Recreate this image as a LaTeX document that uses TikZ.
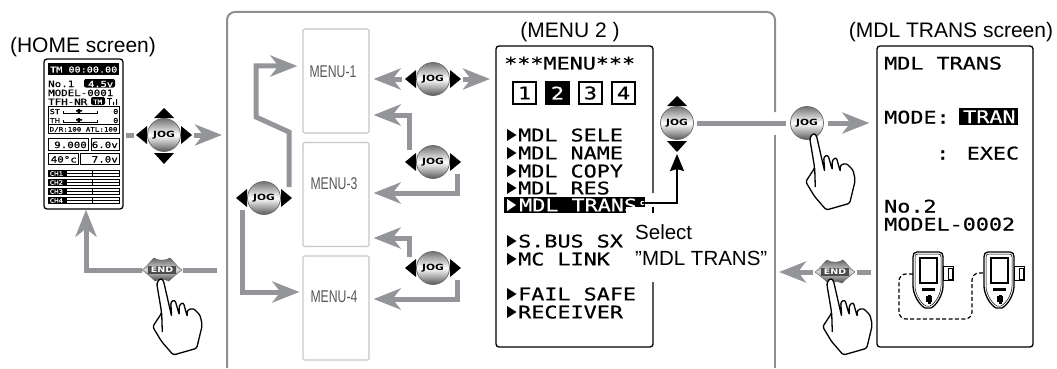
\documentclass[tikz,border=0pt]{standalone}
\usepackage{fontspec}
\setmainfont{Liberation Sans}
\newfontfamily\lcdf[FakeStretch=1.25,FakeBold=0.6]{DejaVu Sans Mono}
\newfontfamily\narrowf[FakeStretch=.72]{Liberation Sans}
\newfontfamily\keyf[FakeStretch=1.25]{DejaVu Sans}
\usetikzlibrary{arrows.meta,calc}
\definecolor{gar}{HTML}{939598}
\definecolor{framec}{HTML}{8E8F91}
\tikzset{
  x=1pt,y=-1pt,
  garrow/.style={draw=gar,line width=5,-{Stealth[length=27pt,width=21pt,inset=8pt]}},
  gstub/.style={draw=gar,line width=5},
  title/.style={font=\fontsize{21}{24}\selectfont,inner sep=0pt},
  lcdbig/.style={font=\fontsize{17.4}{20}\lcdf,inner sep=0pt,anchor=base west},
  lcdsmall/.style={font=\fontsize{8.65}{10}\lcdf,inner sep=0pt,anchor=base west},
  lcdtiny/.style={font=\fontsize{6.8}{8}\lcdf,inner sep=0pt,anchor=base west},
  menubox/.style={draw=black!22,line width=1.2,rounded corners=1.5,fill=white,minimum width=66,minimum height=104,inner sep=0pt},
  menulabel/.style={font=\fontsize{17}{20}\narrowf,text=black!65,inner sep=0pt},
  jogball/.style={circle,draw=black!60,line width=.7,minimum size=33,inner sep=0pt,top color=black!55,bottom color=black!65,middle color=white,font=\fontsize{8.5}{9}\keyf\bfseries},
  endkey/.style={font=\fontsize{7.6}{8}\keyf\bfseries,text=white,inner sep=0pt},
  digit/.style={draw=black,line width=1.6,minimum width=23,minimum height=22,inner sep=0pt,font=\fontsize{17.4}{20}\lcdf},
  screen/.style={draw=black,line width=1.3,rounded corners=3},
}
\newcommand\jogLR[1]{%
  \fill ([shift={(-17,-9)}]#1.center)--([shift={(-17,9)}]#1.center)--([shift={(-28,0)}]#1.center)--cycle;
  \fill ([shift={(17,-9)}]#1.center)--([shift={(17,9)}]#1.center)--([shift={(28,0)}]#1.center)--cycle;}
\newcommand\jogUD[1]{%
  \fill ([shift={(-10,-17)}]#1.center)--([shift={(10,-17)}]#1.center)--([shift={(0,-27)}]#1.center)--cycle;
  \fill ([shift={(-10,18)}]#1.center)--([shift={(10,18)}]#1.center)--([shift={(0,29)}]#1.center)--cycle;}
\newcommand\handshape[3]{%
  \begin{scope}[shift={(#1.center)},shift={(#2,#3)}]
  \filldraw[fill=white,draw=black,line width=1.3,rounded corners=2.2,line join=round]
    (0,-1.7)--(-3.3,3.3)--(1.7,33)--(-7.3,46.7)--(1.7,61.7)--(13.3,75)--(36.7,68.3)--(42.3,45)--(40,35)--(33.3,28.3)--(27.3,30)--(27.3,36.7)--(23.3,22.3)--(19.3,25)--(19.3,35)--(15,20)--(10.7,21.7)--(11.7,36.7)--(3.3,0)--cycle;
  \draw[line width=1.3] (1.7,33)--(2.3,52);
  \end{scope}}
\newcommand\lensKey[3]{%
  \begin{scope}[shift={(#2,#3)}]
  \shade[top color=black!60,bottom color=black!70,middle color=black!15,draw=black!60,line width=.5]
    (-20,0)..controls (-13,-5) and (-11,-10)..(-8,-12)..controls (-4,-9) and (4,-9)..(8,-12)..controls (11,-10) and (13,-5)..(20,0)
    ..controls (13,5) and (9,9)..(7,11)..controls (2,9) and (-2,9)..(-7,11)..controls (-9,9) and (-13,5)..(-20,0)--cycle;
  \fill[black!70] (-14,-3.8) rectangle (14,3.8);
  \node[endkey] (#1) at (0,0) {END};
  \end{scope}}
\newcommand\device[2]{%
  \begin{scope}[shift={(#1,#2)}]
  \draw[line width=1.3] (4,0)--(26,0)..controls (29,0) and (30,2)..(30,5)--(30,34)..controls (30,42) and (24,53)..(18,56)--(12,56)..controls (6,53) and (0,42)..(0,34)--(0,5)..controls (0,2) and (1,0)..(4,0)--cycle;
  \draw[line width=.5] (5,2)--(25,2)..controls (27,2) and (28,3)..(28,5)--(28,34)..controls (28,41) and (23,51)..(17,54)--(13,54)..controls (7,51) and (2,41)..(2,34)--(2,5)..controls (2,3) and (3,2)..(5,2)--cycle;
  \draw[line width=1.4] (7,6) rectangle (24,31);
  \fill (9,36) rectangle (22,39);
  \fill (13,44) rectangle (19,50);\fill (14.5,42.5) rectangle (17.5,51.5);
  \draw[line width=1] (30,14) rectangle (40,28);
  \draw[line width=1] (35,16) rectangle (39,27);
  \end{scope}}
\begin{document}
\begin{tikzpicture}
\useasboundingbox (0,0) rectangle (1057,369);

% ---------- outer frame
\draw[draw=framec,line width=2,rounded corners=8] (227,368)--(227,12)--(775,12)--(775,112);
\draw[draw=framec,line width=2] (775,135)--(775,368);

% ---------- titles
\node[title] (thome) at (83,47) {(HOME screen)};
\node[title] (tmenu) at (570,32) {(MENU 2 )};
\node[title] (ttrans) at (951,32) {(MDL TRANS screen)};

% ---------- menu boxes
\node[menubox] (m1) at (336,81) {};
\node[menubox] (m3) at (336,194.5) {};
\node[menubox] (m4) at (336,308) {};
\node[menulabel] (lm1) at (333,72) {MENU-1};
\node[menulabel] (lm3) at (334,184) {MENU-3};
\node[menulabel] (lm4) at (334,297) {MENU-4};

% ---------- jog keys
\node[jogball] (j0) at (164,135) {JOG};
\node[jogball] (j1) at (433,79) {JOG};
\node[jogball] (j2) at (433,162) {JOG};
\node[jogball] (j3) at (433,268) {JOG};
\node[jogball] (j4) at (264,198) {JOG};
\node[jogball] (j5) at (677,123) {JOG};
\node[jogball] (j6) at (807,123) {JOG};
\jogLR{j0}\jogUD{j0}\jogLR{j1}\jogLR{j2}\jogLR{j3}\jogLR{j4}\jogUD{j5}

% ---------- screens (coordinates for connectors)
\node[screen,minimum width=79,minimum height=150,inner sep=0pt] (home) at (83.5,134) {};
\node[screen,draw=none,minimum width=157,minimum height=301,inner sep=0pt] (m2) at (574.5,196.5) {};
\node[screen,minimum width=156,minimum height=301,inner sep=0pt] (trans) at (955,196.5) {};

% ---------- end keys
\lensKey{e1}{162}{270}
\lensKey{e2}{835}{272}

% ---------- grey connectors
\draw[gstub] ([xshift=2pt]home.east |- j0.center) -- ([xshift=-30pt]j0.center);
\draw[garrow] ([xshift=30pt]j0.center) -- ([xshift=58pt]j0.center);
\draw[gstub] ([xshift=21pt]e1.center) -- ([xshift=55pt]e1.center);
\draw[garrow] ([xshift=-20pt]e1.center) -- (86,270) -- ([xshift=2.5pt]home.south);

\draw[garrow] ([xshift=-31pt]j1.center) -- ([xshift=4pt]m1.east |- j1.center);
\draw[garrow] ([xshift=30pt]j1.center) -- ([xshift=57pt]j1.center);
\draw[garrow] ([shift={(-24,-12)}]j2.center) -- ([shift={(-24,-47)}]j2.center) -- ([xshift=4pt]m1.east |- 0,115);
\draw[garrow] ([shift={(24,12)}]j2.center) -- ([shift={(24,31)}]j2.center) -- ([xshift=4pt]m3.east |- 0,193);
\draw[garrow] ([shift={(-24,-11)}]j3.center) -- ([shift={(-24,-30)}]j3.center) -- ([xshift=4pt]m3.east |- 0,238);
\draw[garrow] ([shift={(24,12)}]j3.center) -- ([shift={(24,31)}]j3.center) -- ([xshift=4pt]m4.east |- 0,299);
\draw[garrow] ([shift={(25,-11)}]j4.center) -- ([shift={(25,-66)}]j4.center) -- ([shift={(-8,-81)}]j4.center) -- ([shift={(-8,-132)}]j4.center) -- ([xshift=-5pt]m1.west |- 0,66);
\draw[garrow] ([shift={(-22,12)}]j4.center) -- ([shift={(-22,94)}]j4.center) -- ([xshift=-3pt]m4.west |- 0,292);

\draw[gstub] ([xshift=20pt]j5.center) -- ([xshift=-21pt]j6.center);
\draw[garrow] ([xshift=21pt]j6.center) -- ([xshift=-7pt]trans.west |- j6.center);
\draw[gstub] ([xshift=-5pt]trans.west |- e2.center) -- ([xshift=22pt]e2.center);
\draw[garrow] ([xshift=-22pt]e2.center) -- ([xshift=-56pt]e2.center);

% ---------- hands
\handshape{j6}{6}{12}
\handshape{e1}{-2}{10}
\handshape{e2}{-5}{8}

% ---------- MENU 2 screen
\draw[screen] (653,193)--(653,46)--(496,46)--(496,347)--(653,347)--(653,282);
\draw[draw=black,line width=1.3] (653,207)--(653,213);
\node[lcdbig] (mt) at (504,69.5) {***MENU***};
\node[digit] (d1) at (524.5,93) {1};
\node[digit,fill=black,text=white] (d2) at (557.5,93) {2};
\node[digit] (d3) at (590.5,93) {3};
\node[digit] (d4) at (623.5,93) {4};
\foreach \yy/\tx/\nm in {135/MDL SELE/a,153/MDL NAME/b,171/MDL COPY/c,188/MDL RES/d,241/S.BUS SX/e,259/MC LINK/f,294/FAIL SAFE/g,312/RECEIVER/h}{
  \fill (507,\yy-6)--(516.5,\yy)--(507,\yy+6)--cycle;
  \node[lcdbig] (it\nm) at (518,\yy+6.4) {\tx};
}
\fill (504,197) rectangle (645,207);
\fill (504,207) rectangle (626,213);
\fill[white] (507,199)--(516,205)--(507,211)--cycle;
\node[lcdbig,text=white] (sel) at (519,211.4) {MDL TRANS};
\fill[white] (642.5,203) circle (2.2);
\draw[line width=1.8,-{Stealth[length=17pt,width=14pt,inset=2pt]}] ([xshift=-35pt]j5.center |- 0,203) -- (j5.center |- 0,203) -- ([shift={(0,31)}]j5.center);
\node[title,anchor=west,font=\fontsize{20.5}{24}\selectfont] (s1) at (635,232) {Select};
\node[title,anchor=west,font=\fontsize{20.5}{24}\selectfont] (s2) at (635,258) {"MDL TRANS"};

% ---------- MDL TRANS screen
\node[lcdbig] (t1) at (884,69.5) {MDL TRANS};
\node[lcdbig] (t2) at (884,123.5) {MODE:};
\fill (959,108) rectangle (1018,125);
\node[lcdbig,text=white] (t3) at (963,123) {TRAN};
\node[lcdbig] (t4) at (936,159.5) {: EXEC};
\node[lcdbig] (t5) at (884,212.5) {No.2};
\node[lcdbig] (t6) at (884,230.5) {MODEL-0002};
\draw[line width=1.2,dash pattern=on 4pt off 2.4pt,rounded corners=7] (913,274)--(899,274)--(899,319)--(972,319)--(972,273)--(984,273);
\device{913}{252}
\device{984}{252}

% ---------- HOME screen
\fill (48,63) rectangle (119,75);
\node[lcdsmall,text=white,font=\fontsize{8.1}{10}\lcdf] (h1) at (50,72.5) {TM 00:00.00};
\node[lcdsmall] (h2) at (48,87) {No.1};
\fill[rounded corners=2] (84,79) rectangle (115,87.5);
\node[lcdsmall,text=white,font=\fontsize{8.3}{10}\lcdf] (h3) at (88,87) {4.5v};
\node[lcdsmall] (h4) at (48,96) {MODEL-0001};
\node[lcdsmall] (h5) at (48,105) {TFH-NR};
\fill[rounded corners=2] (91,97) rectangle (105,105);
\node[lcdtiny,text=white,font=\fontsize{5.9}{7}\lcdf] (h6) at (93,104) {TM};
\draw[line width=1] (107,98)--(112,98) (109.5,98)--(109.5,105);
\fill (113,102) rectangle (114,105) (116,99) rectangle (117,105);
\draw[line width=.9] (48,106) rectangle (119,133) (48,124)--(119,124);
\node[lcdtiny] (h7) at (49.5,114) {ST};
\node[lcdtiny] (h8) at (49.5,123) {TH};
\node[lcdtiny] (h9) at (113,114) {0};
\node[lcdtiny] (h10) at (113,123) {0};
\foreach \yy in {113,122}{
  \draw[line width=.7] (63,\yy-2)--(63,\yy)--(97,\yy)--(97,\yy-2);
  \fill (77.5,\yy-4) rectangle (80,\yy+.5) (76,\yy-3) rectangle (82,\yy-1.5);
}
\node[lcdtiny,font=\fontsize{6}{7}\lcdf] (h11) at (49.5,131.5) {D/R:100 ATL:100};
\draw[line width=.9] (48,138) rectangle (88,150) (91,138) rectangle (119,150) (48,153) rectangle (78,164) (80,153) rectangle (119,164);
\node[lcdsmall,anchor=base east] (h12) at (87,148) {9.000};
\node[lcdsmall,anchor=base east] (h13) at (118,148) {6.0v};
\node[lcdsmall,anchor=base east] (h14) at (77,162.5) {40°c};
\node[lcdsmall,anchor=base east] (h15) at (118,162.5) {7.0v};
\foreach \yy/\ch in {170/CH1,179/CH2,188/CH3,197/CH4}{
  \fill (48,\yy) rectangle (66,\yy+7);
  \node[lcdtiny,text=white,font=\fontsize{5.9}{7}\lcdf] (c\ch) at (49.5,\yy+5.7) {\ch};
  \draw[line width=.5] (66,\yy) rectangle (119,\yy+6.5) (66,\yy+3.2)--(119,\yy+3.2);
  \draw[line width=.7] (92,\yy)--(92,\yy+6.5);
}
\end{tikzpicture}
\end{document}
